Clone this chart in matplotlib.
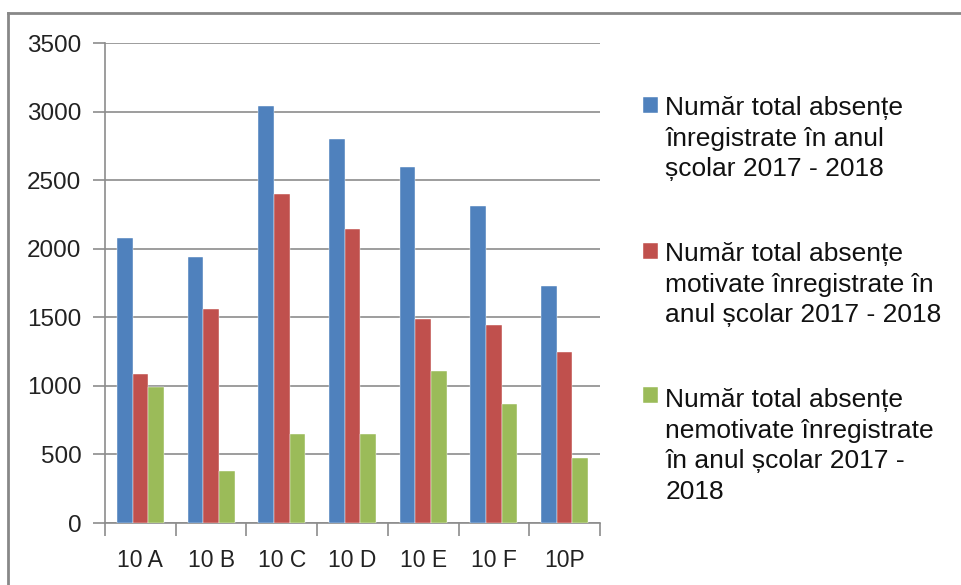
import matplotlib.pyplot as plt
import matplotlib.lines as mlines
import matplotlib.patches as mpatches
from matplotlib.legend_handler import HandlerPatch, update_from_first_child
import numpy as np

plt.rcParams['font.family'] = ['Liberation Sans', 'DejaVu Sans']

clase = ['10 A', '10 B', '10 C', '10 D', '10 E', '10 F', '10P']
total = [2080, 1940, 3040, 2800, 2595, 2315, 1725]
motivate = [1090, 1560, 2400, 2145, 1485, 1445, 1250]
nemotivate = [990, 380, 650, 650, 1105, 865, 475]

etichete = ['Număr total absențe\nînregistrate în anul\nșcolar 2017 - 2018',
            'Număr total absențe\nmotivate înregistrate în\nanul școlar 2017 - 2018',
            'Număr total absențe\nnemotivate înregistrate\nîn anul școlar 2017 -\n2018']
culori = ['#4F81BD', '#C0504D', '#9BBB59']

FS_LEG = 19
LS_LEG = 1.35

fig = plt.figure(figsize=(9.61, 5.85), dpi=100)
ax = fig.add_axes([105 / 961, 1 - 523 / 585, 495 / 961, 480 / 585])

x = np.arange(len(clase))
w = 0.222
containere = []
for i, (vals, c, lab) in enumerate(zip([total, motivate, nemotivate], culori, etichete)):
    bc = ax.bar(x + (i - 1) * w, vals, width=w, color=c, label=lab, zorder=3,
                edgecolor='white', linewidth=0.3)
    containere.append(bc)

gri = '#8c8c8c'
ax.set_xlim(-0.5, len(clase) - 0.5)
ax.set_ylim(0, 3500)
ax.set_yticks(range(0, 3501, 500))
ax.yaxis.grid(True, color=gri, linewidth=1.2, zorder=0)
ax.set_axisbelow(True)
for s in ['top', 'right']:
    ax.spines[s].set_visible(False)
for s in ['left', 'bottom']:
    ax.spines[s].set_color(gri)
    ax.spines[s].set_linewidth(1.2)

ax.set_xticks(np.arange(len(clase) + 1) - 0.5, minor=False)
ax.set_xticklabels([])
ax.set_xticks(x, minor=True)
ax.set_xticklabels(clase, minor=True)
ax.tick_params(axis='x', which='major', length=9, color=gri, width=1.2)
ax.tick_params(axis='x', which='minor', length=0, pad=19, labelsize=16.5, labelcolor='#222222')
ax.tick_params(axis='y', length=9, color=gri, width=1.2, pad=8, labelsize=17.5, labelcolor='#222222')


# patratelul din legenda aliniat cu primul rand al textului
def patrat_sus(nlinii):
    def f(legend, orig_handle, xdescent, ydescent, width, height, fontsize):
        shift = (nlinii - 1) / 2 * LS_LEG * fontsize * 0.95
        return mpatches.Rectangle((-xdescent, -ydescent + shift), width, height)
    return f


hm = {bc: HandlerPatch(patch_func=patrat_sus(lab.count('\n') + 1), update_func=update_from_first_child)
      for bc, lab in zip(containere, etichete)}

leg = ax.legend(loc='upper left', bbox_to_anchor=((643 - 105) / 495, (523 - 96) / 480), frameon=False,
                fontsize=FS_LEG, handlelength=0.55, handleheight=0.55, handletextpad=0.3,
                labelspacing=2.3, borderaxespad=0, borderpad=0, handler_map=hm)
for t in leg.get_texts():
    t.set_linespacing(LS_LEG)
    t.set_color('#111111')

# chenarul exterior
fig.add_artist(mlines.Line2D([8 / 961, 1], [1 - 13 / 585, 1 - 13 / 585], color='#888888', linewidth=2))
fig.add_artist(mlines.Line2D([8 / 961, 8 / 961], [0, 1 - 13 / 585], color='#888888', linewidth=2))

fig.savefig('out.png', dpi=100)
